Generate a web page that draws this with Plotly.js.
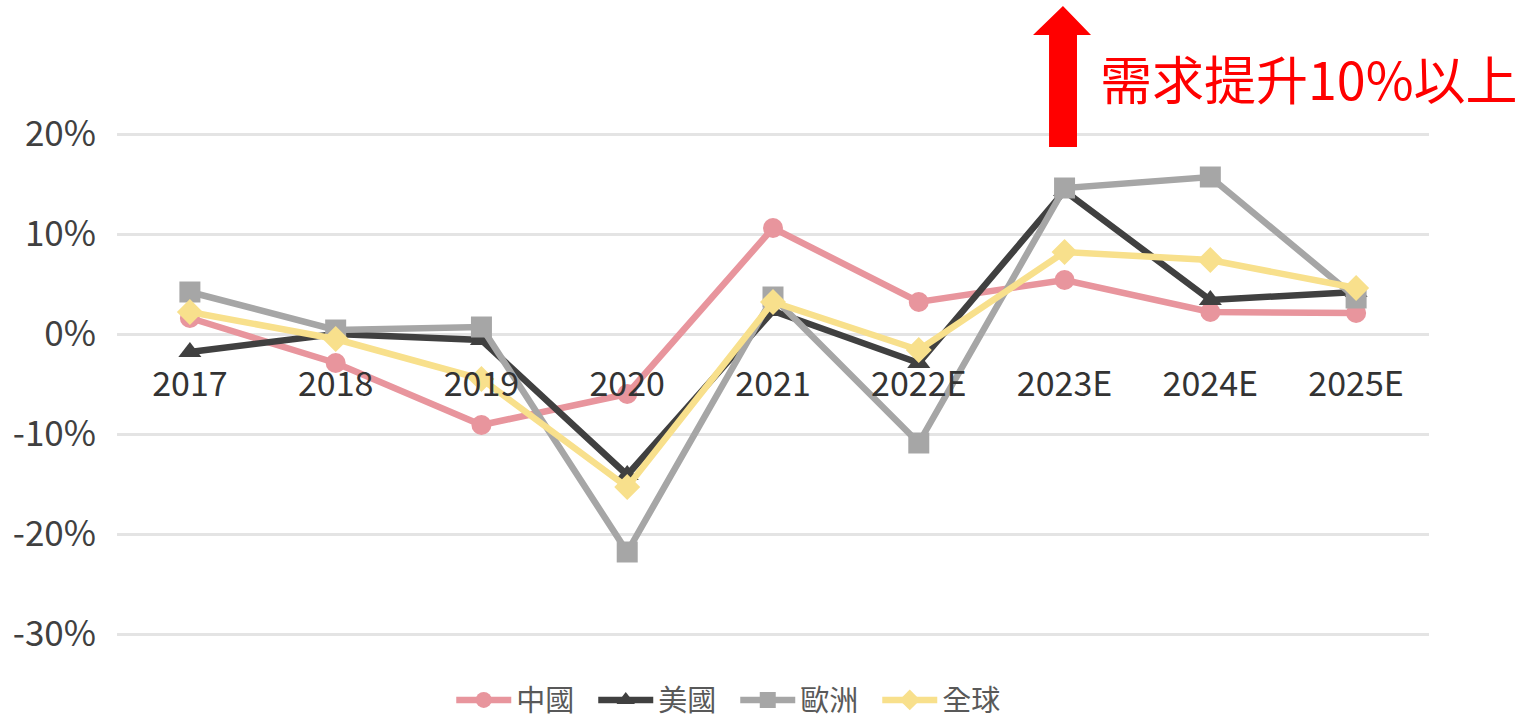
<!DOCTYPE html>
<html>
<head>
<meta charset="utf-8">
<script src="https://cdn.plot.ly/plotly-3.0.1.min.js"></script>
<style>
  html, body { margin: 0; padding: 0; background: #fff; }
  #chart { width: 1527px; height: 724px; }
</style>
</head>
<body>
<div id="chart"></div>
<script>
// Load in data
var years = ['2017', '2018', '2019', '2020', '2021', '2022E', '2023E', '2024E', '2025E'];

var chinaVals  = [0.016, -0.029, -0.091, -0.060, 0.106, 0.032, 0.054, 0.022, 0.021];
var usVals     = [-0.018, 0.000, -0.006, -0.141, 0.023, -0.029, 0.143, 0.034, 0.042];
var europeVals = [0.042, 0.004, 0.007, -0.218, 0.037, -0.109, 0.146, 0.157, 0.036];
var globalVals = [0.022, -0.005, -0.045, -0.153, 0.032, -0.016, 0.082, 0.074, 0.046];

var yTicks = [0.2, 0.1, 0, -0.1, -0.2, -0.3];
var yTickText = ['20%', '10%', '0%', '-10%', '-20%', '-30%'];

var cjk = '"Noto Sans CJK TC", "Noto Sans", sans-serif';

// Create the traces
function makeTrace(name, vals, color, symbol, size) {
  return {
    x: years,
    y: vals,
    name: name,
    type: 'scatter',
    mode: 'lines+markers',
    line: { color: color, width: 6.5 },
    marker: { color: color, symbol: symbol, size: size },
    cliponaxis: false
  };
}

var data = [
  makeTrace('中國', chinaVals, '#E8959D', 'circle', 20),
  makeTrace('美國', usVals, '#404040', 'triangle-up', 20),
  makeTrace('歐洲', europeVals, '#A6A6A6', 'square', 21),
  makeTrace('全球', globalVals, '#F8E08C', 'diamond', 20)
];

// Define our plot layout
var layout = {
  width: 1527,
  height: 724,
  margin: { l: 117, r: 98, t: 114, b: 70 },
  paper_bgcolor: '#ffffff',
  plot_bgcolor: '#ffffff',
  font: { family: cjk, color: '#404040' },
  showlegend: true,
  legend: {
    orientation: 'h',
    xref: 'container', yref: 'container',
    x: 0.4815, xanchor: 'center',
    y: 0.033, yanchor: 'middle',
    font: { size: 29, color: '#595959', family: cjk },
    traceorder: 'normal',
    itemwidth: 55,
    entrywidth: 72
  },
  xaxis: {
    type: 'category',
    range: [-0.5, 8.5],
    showgrid: false,
    showline: false,
    zeroline: false,
    ticks: '',
    anchor: 'free',
    position: 0.5926,
    ticklabelstandoff: 27,
    tickfont: { size: 34, color: '#333333', family: cjk }
  },
  yaxis: {
    range: [-0.32, 0.22],
    tickvals: yTicks,
    ticktext: yTickText,
    showgrid: true,
    gridcolor: '#E4E4E4',
    gridwidth: 3,
    zeroline: false,
    showline: false,
    ticks: '',
    ticklabelstandoff: 20,
    tickfont: { size: 35, color: '#404040', family: cjk }
  },
  shapes: [
    {
      type: 'path',
      xref: 'paper', yref: 'paper',
      path: 'M 0.7104 0.9389 L 0.7317 0.9389 L 0.7317 1.1463 L 0.7424 1.1463 L 0.7210 1.2 L 0.6982 1.1463 L 0.7104 1.1463 Z',
      fillcolor: '#FF0000',
      line: { width: 0 }
    }
  ],
  annotations: [
    {
      xref: 'paper', yref: 'paper',
      x: 0.7477, y: 1.068,
      xanchor: 'left', yanchor: 'middle',
      text: '需求提升10%以上',
      showarrow: false,
      font: { size: 52, color: '#FF0000', family: cjk }
    }
  ]
};

Plotly.newPlot('chart', data, layout, { displayModeBar: false, staticPlot: true });
</script>
</body>
</html>
